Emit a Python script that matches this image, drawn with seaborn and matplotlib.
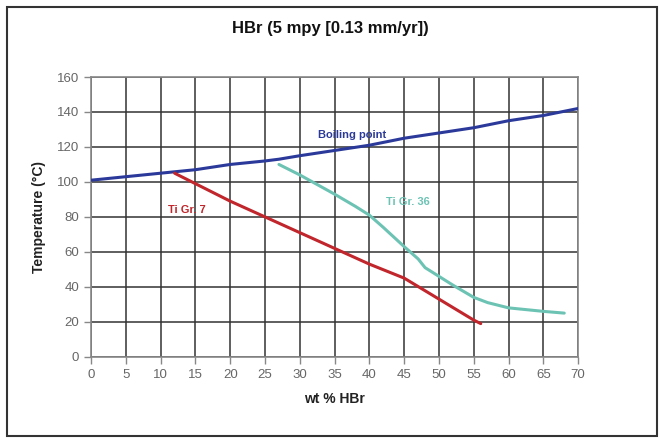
import matplotlib
matplotlib.use("Agg")
import matplotlib.pyplot as plt
import seaborn as sns
import pandas as pd
from matplotlib.patches import Rectangle

# Data
bp_x = [0, 5, 10, 15, 20, 25, 27, 30, 35, 40, 45, 50, 55, 60, 65, 70]
bp_y = [101, 103, 105, 107, 110, 112, 113, 115, 118, 121, 125, 128, 131, 135, 138, 142]

gr7_x = [12, 15, 20, 25, 30, 35, 40, 45, 50, 55, 56]
gr7_y = [105, 99, 89, 80, 71, 62, 53, 45, 33, 21, 19]

gr36_x = [27, 30, 35, 38, 40, 42, 45, 47, 48, 50, 52, 55, 57, 60, 65, 68]
gr36_y = [110, 104, 93, 86, 81, 74, 63, 56, 51, 46, 41, 34, 31, 28, 26, 25]

x_ticks = list(range(0, 75, 5))
y_ticks = list(range(0, 180, 20))

sns.set_theme(style="white")
plt.rcParams['font.family'] = ['Liberation Sans', 'DejaVu Sans']

fig = plt.figure(figsize=(6.6, 4.4), dpi=100)
ax = fig.add_axes([0.138, 0.189, 0.738, 0.636])

df_bp = pd.DataFrame({"x": bp_x, "y": bp_y})
df_7 = pd.DataFrame({"x": gr7_x, "y": gr7_y})
df_36 = pd.DataFrame({"x": gr36_x, "y": gr36_y})

sns.lineplot(data=df_bp, x="x", y="y", ax=ax, color="#2b3a9a", lw=2.2, zorder=5)
sns.lineplot(data=df_7, x="x", y="y", ax=ax, color="#c0262b", lw=2.2, zorder=5)
sns.lineplot(data=df_36, x="x", y="y", ax=ax, color="#6cc3b4", lw=2.2, zorder=5)

ax.set_xlim(0, 70)
ax.set_ylim(0, 160)
ax.set_xticks(x_ticks)
ax.set_yticks(y_ticks)
ax.grid(True, color="#333333", lw=1.1)
ax.set_axisbelow(True)
for s in ax.spines.values():
    s.set_color("#888888")
    s.set_linewidth(1.2)
ax.tick_params(axis="both", direction="out", length=5, width=1, color="#888888",
               labelcolor="#666666", labelsize=9.5, bottom=True, left=True)

ax.set_xlabel("wt % HBr", fontweight="bold", fontsize=10, color="#222222", labelpad=8)
ax.set_ylabel("Temperature (°C)", fontweight="bold", fontsize=10, color="#222222", labelpad=8)

fig.text(0.5, 0.935, "HBr (5 mpy [0.13 mm/yr])", ha="center", va="center",
         fontweight="bold", fontsize=12, color="#111111")

ax.text(37.5, 127, "Boiling point", color="#2b3a9a", fontsize=8, fontweight="bold",
        ha="center", va="center", zorder=10)
ax.text(45.5, 88.5, "Ti Gr. 36", color="#6cc3b4", fontsize=8, fontweight="bold",
        ha="center", va="center", zorder=10)
ax.text(13.8, 84, "Ti Gr. 7", color="#c0262b", fontsize=8, fontweight="bold",
        ha="center", va="center", zorder=10)

fig.patches.append(Rectangle((0.011, 0.008), 0.985, 0.975, transform=fig.transFigure,
                             fill=False, edgecolor="#333333", lw=1.5))

fig.savefig("out.png", dpi=100)
